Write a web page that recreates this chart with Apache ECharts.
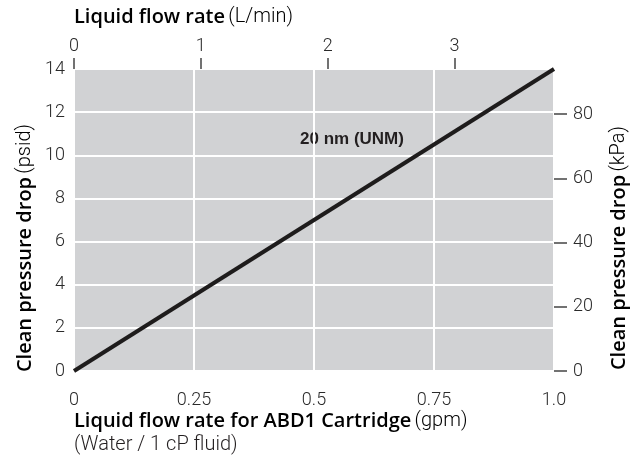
<!DOCTYPE html>
<html><head><meta charset="utf-8">
<script src="https://cdn.jsdelivr.net/npm/echarts@6/dist/echarts.min.js"></script>
<style>html,body{margin:0;padding:0;background:#fff}#c{width:638px;height:459px}</style>
</head><body><div id="c"></div>
<script>
// Data
const flowGpm = [0, 1.0];
const pressurePsid = [0, 14];
const seriesName = '20 nm (UNM)';
const bottomTicks = [0, 0.25, 0.5, 0.75, 1.0];
const bottomTickLabels = ['0', '0.25', '0.5', '0.75', '1.0'];
const topTickLabels = ['0', '1', '2', '3'];
const rightTickLabels = ['0', '20', '40', '60', '80'];
const lpmPerGpm = 3.785;
const kpaPerPsi = 6.72; // as drawn on the reference scale

const LIGHT = 'Roboto', MED = 'Open Sans';
const chart = echarts.init(document.getElementById('c'));
const tick = {fontFamily: LIGHT, fontWeight: 300, fontSize: 18, color: '#2a2a2a'};
const med = {fontFamily: MED, fontWeight: 600, fontSize: 20, color: '#231f20'};
const light = {fontFamily: LIGHT, fontWeight: 300, fontSize: 20, color: '#231f20'};

chart.setOption({
  animation: false,
  grid: {left: 74, right: 84, top: 69, bottom: 88, show: true, backgroundColor: '#d1d2d4', borderWidth: 0},
  xAxis: [
    {type: 'value', position: 'bottom', min: 0, max: 1, interval: 0.25,
     axisLine: {show: false, onZero: false}, axisTick: {show: false},
     splitLine: {show: true, lineStyle: {color: '#fff', width: 2}},
     axisLabel: Object.assign({margin: 20, formatter: v => bottomTickLabels[bottomTicks.indexOf(v)] ?? ''}, tick)},
    {type: 'value', position: 'top', min: 0, max: lpmPerGpm, interval: 1,
     axisLine: {show: false, onZero: false}, axisTick: {show: true, length: 11, lineStyle: {color: '#444', width: 1.5}},
     splitLine: {show: false},
     axisLabel: Object.assign({margin: 14, showMaxLabel: false, formatter: v => topTickLabels[Math.round(v)] ?? ''}, tick)}
  ],
  yAxis: [
    {type: 'value', position: 'left', min: 0, max: 14, interval: 2,
     axisLine: {show: false, onZero: false}, axisTick: {show: false},
     splitLine: {show: true, lineStyle: {color: '#fff', width: 2}},
     axisLabel: Object.assign({margin: 9}, tick)},
    {type: 'value', position: 'right', min: 0, max: 14 * kpaPerPsi, interval: 20,
     axisLine: {show: false, onZero: false}, axisTick: {show: true, length: 13, lineStyle: {color: '#444', width: 1.5}},
     splitLine: {show: false},
     axisLabel: Object.assign({margin: 19, showMaxLabel: false, formatter: v => rightTickLabels[Math.round(v / 20)] ?? ''}, tick)}
  ],
  graphic: [
    {type: 'text', x: 74, y: 17, style: {text: '{m|Liquid flow rate} {l|(L/min)}', verticalAlign: 'middle', rich: {m: med, l: light}}},
    {type: 'text', x: 74, y: 421, style: {text: '{m|Liquid flow rate for ABD1 Cartridge} {l|(gpm)}', verticalAlign: 'middle', rich: {m: med, l: light}}},
    {type: 'text', x: 74, y: 445, style: {text: '(Water / 1 cP fluid)', verticalAlign: 'middle', font: '300 20px Roboto', fill: '#231f20'}},
    {type: 'text', x: 25, y: 248, rotation: Math.PI / 2, style: {text: '{m|Clean pressure drop} {l|(psid)}', align: 'center', verticalAlign: 'middle', rich: {m: med, l: light}}},
    {type: 'text', x: 619, y: 248, rotation: Math.PI / 2, style: {text: '{m|Clean pressure drop} {l|(kPa)}', align: 'center', verticalAlign: 'middle', rich: {m: med, l: light}}},
    {type: 'text', x: 352, y: 139, style: {text: seriesName, align: 'center', verticalAlign: 'middle', font: 'bold 17px "Liberation Sans"', fill: '#231f20'}}
  ],
  series: [{
    type: 'line', xAxisIndex: 0, yAxisIndex: 0, name: seriesName,
    data: flowGpm.map((x, i) => [x, pressurePsid[i]]),
    showSymbol: false, lineStyle: {color: '#1e1c1c', width: 4}
  }]
});
</script></body></html>
